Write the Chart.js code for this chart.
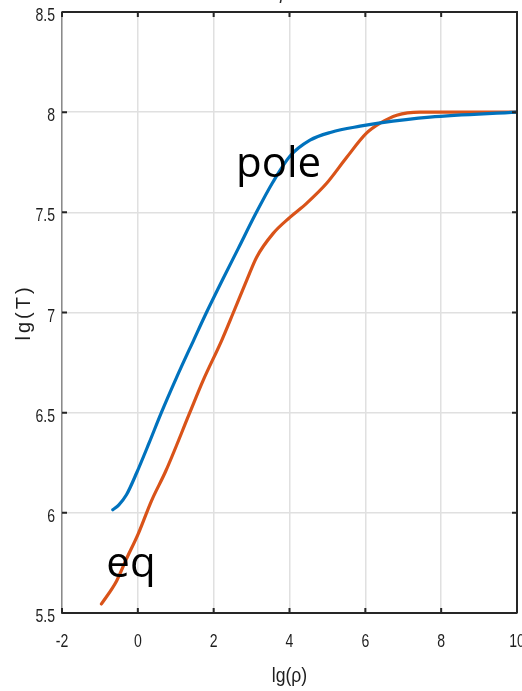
<!DOCTYPE html>
<html>
<head>
<meta charset="utf-8">
<script src="https://cdn.jsdelivr.net/npm/chart.js@4.4.1/dist/chart.umd.min.js"></script>
<style>
  html, body { margin: 0; padding: 0; background: #fff; }
  #wrap { width: 522px; height: 691px; }
</style>
</head>
<body>
<div id="wrap"><canvas id="c" width="522" height="691"></canvas></div>
<script>
// ---- data ----
const poleX = [-0.66, -0.5, -0.3, -0.03, 0.3, 0.62, 1.02, 1.48, 1.81, 2.25, 2.65, 3.1, 3.56, 4.01, 4.54, 5.1, 5.86, 6.35, 7.7, 10];
const poleY = [6.015, 6.04, 6.09, 6.2, 6.35, 6.5, 6.675, 6.865, 7.0, 7.17, 7.32, 7.49, 7.65, 7.78, 7.86, 7.9, 7.93, 7.945, 7.975, 8.0];
const eqX = [-0.96, -0.56, -0.3, 0.01, 0.36, 0.74, 1.37, 1.72, 2.21, 2.52, 2.87, 3.13, 3.57, 4.01, 4.45, 4.98, 5.51, 6.03, 6.39, 6.83, 7.44, 10];
const eqY = [5.545, 5.66, 5.77, 5.895, 6.06, 6.21, 6.5, 6.66, 6.86, 7.0, 7.16, 7.275, 7.395, 7.475, 7.545, 7.645, 7.775, 7.895, 7.945, 7.985, 8.0, 8.0];
const xTicks = [-2, 0, 2, 4, 6, 8, 10];
const yTicks = [5.5, 6, 6.5, 7, 7.5, 8, 8.5];
const seriesNames = ['pole', 'eq'];
const xTitle = 'lg(ρ)';
const yTitle = 'lg(T)';
const labelAnchors = [{ x: 2.59, y: 7.675 }, { x: -0.83, y: 5.68 }];

const toPts = (xs, ys) => xs.map((x, i) => ({ x, y: ys[i] }));
const FONT = "'Liberation Sans', Arial, sans-serif";
const INK = '#262626';

function condensedText(ctx, text, x, y, align, sx) {
  ctx.save();
  ctx.translate(x, y);
  ctx.scale(sx, 1);
  ctx.textAlign = align;
  ctx.fillText(text, 0, 0);
  ctx.restore();
}

const framePlugin = {
  id: 'frame',
  afterDraw(chart) {
    const { ctx, chartArea: a, scales } = chart;
    ctx.save();
    ctx.strokeStyle = INK;
    ctx.lineWidth = 2;
    ctx.beginPath();
    ctx.moveTo(a.left, a.top); ctx.lineTo(a.right, a.top); ctx.lineTo(a.right, a.bottom);
    ctx.stroke();
    const tl = 5;
    xTicks.forEach(v => {
      const px = scales.x.getPixelForValue(v);
      ctx.beginPath();
      ctx.moveTo(px, a.bottom); ctx.lineTo(px, a.bottom - tl);
      ctx.moveTo(px, a.top); ctx.lineTo(px, a.top + tl);
      ctx.stroke();
    });
    yTicks.forEach(v => {
      const py = scales.y.getPixelForValue(v);
      ctx.beginPath();
      ctx.moveTo(a.left, py); ctx.lineTo(a.left + tl, py);
      ctx.moveTo(a.right, py); ctx.lineTo(a.right - tl, py);
      ctx.stroke();
    });

    // tick labels (condensed like the reference)
    ctx.fillStyle = '#1e1e1e';
    ctx.font = '19px ' + FONT;
    ctx.textBaseline = 'alphabetic';
    xTicks.forEach(v => {
      condensedText(ctx, String(v), scales.x.getPixelForValue(v), a.bottom + 34, 'center', 0.74);
    });
    yTicks.forEach(v => {
      condensedText(ctx, String(v), a.left - 7, scales.y.getPixelForValue(v) + 9, 'right', 0.74);
    });

    // axis titles
    ctx.font = '20px ' + FONT;
    condensedText(ctx, xTitle, (a.left + a.right) / 2, 682, 'center', 0.88);
    ctx.save();
    ctx.translate(24, (a.top + a.bottom) / 2);
    ctx.rotate(-Math.PI / 2);
    ctx.font = '20px ' + FONT;
    ctx.letterSpacing = '3px';
    ctx.textAlign = 'center';
    ctx.textBaseline = 'middle';
    ctx.fillText(yTitle, 0, 0);
    ctx.restore();

    // series annotations
    ctx.fillStyle = '#000';
    ctx.font = "42px 'Open Sans', sans-serif";
    ctx.textBaseline = 'alphabetic';
    ctx.textAlign = 'left';
    labelAnchors.forEach((p, i) => {
      ctx.fillText(seriesNames[i], scales.x.getPixelForValue(p.x), scales.y.getPixelForValue(p.y));
    });
    // clipped title remnant at very top
    ctx.font = "italic 17px " + FONT;
    ctx.fillStyle = INK;
    ctx.fillText('ρ', 280, 0);
    ctx.restore();
  }
};

new Chart(document.getElementById('c'), {
  type: 'scatter',
  data: {
    datasets: [
      { label: seriesNames[0], data: toPts(poleX, poleY), borderColor: '#0072BD', backgroundColor: '#0072BD' },
      { label: seriesNames[1], data: toPts(eqX, eqY), borderColor: '#D95319', backgroundColor: '#D95319' }
    ]
  },
  options: {
    responsive: false,
    animation: false,
    layout: { padding: { top: 12, right: 5, left: 0, bottom: 0 } },
    elements: {
      point: { radius: 0, hoverRadius: 0 },
      line: { borderWidth: 3.2, cubicInterpolationMode: 'monotone', borderCapStyle: 'round' }
    },
    datasets: { scatter: { showLine: true } },
    plugins: { legend: { display: false }, tooltip: { enabled: false } },
    scales: {
      x: {
        type: 'linear', min: -2, max: 10,
        afterBuildTicks: s => { s.ticks = xTicks.map(v => ({ value: v })); },
        afterFit: s => { s.height = 78; s.paddingLeft = 0; s.paddingRight = 0; },
        grid: { color: '#e0e0e0', lineWidth: 1.5, drawTicks: false },
        border: { color: INK, width: 2 },
        ticks: { display: false }
      },
      y: {
        type: 'linear', min: 5.5, max: 8.5,
        afterBuildTicks: s => { s.ticks = yTicks.map(v => ({ value: v })); },
        afterFit: s => { s.width = 62; s.paddingTop = 0; s.paddingBottom = 0; },
        grid: { color: '#e0e0e0', lineWidth: 1.5, drawTicks: false },
        border: { color: '#8a8a8a', width: 1.5 },
        ticks: { display: false }
      }
    }
  },
  plugins: [framePlugin]
});
</script>
</body>
</html>
